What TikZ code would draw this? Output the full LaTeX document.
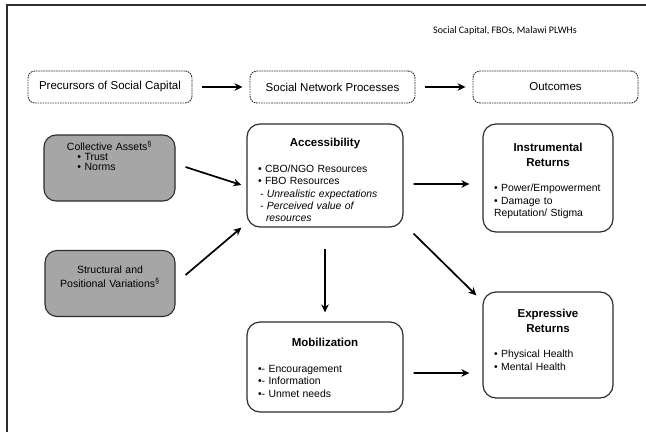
\documentclass[tikz,border=0pt]{standalone}
\usepackage{fontspec}
\setmainfont{Liberation Sans}
\newfontfamily\calibri{Carlito}
\usetikzlibrary{arrows.meta}

\definecolor{boxgrey}{RGB}{166,166,166}
\definecolor{linegrey}{RGB}{45,45,45}

\tikzstyle{headbox} = [draw=linegrey, line width=0.9bp, dash pattern=on 1.6bp off 0.9bp, rounded corners=7bp, minimum width=164bp, minimum height=32bp, inner sep=0pt, font=\fontsize{11.5bp}{13bp}\selectfont]
\tikzstyle{greybox} = [draw=linegrey, line width=1.1bp, fill=boxgrey, rounded corners=12bp, minimum width=131bp, minimum height=66bp, inner sep=0pt]
\tikzstyle{whitebox} = [draw=linegrey, line width=1.2bp, fill=white, rounded corners=13bp, inner sep=0pt]
\tikzstyle{greytext} = [anchor=base, inner sep=0pt, text width=125bp, align=center, font=\fontsize{10.5bp}{10bp}\selectfont]
\tikzstyle{boxtext} = [anchor=base, inner sep=0pt, align=left, font=\fontsize{10.4bp}{12.3bp}\selectfont]
\tikzstyle{flow} = [-{Stealth[length=8bp, width=7.5bp]}, line width=1.7bp, black]

\newcommand{\boxtitle}[1]{{\centering\fontsize{11.5bp}{14.5bp}\selectfont\bfseries #1\par}\vspace{13.2bp}}

\begin{document}
\begin{tikzpicture}[x=1bp, y=1bp]
    \useasboundingbox (0,0) rectangle (646,432);

    % frame
    \draw [line width=1.6bp, draw=linegrey] (646,427) -- (7,427) -- (7,0);

    % running title
    \node at (505,398) [anchor=base, font=\calibri\fontsize{10bp}{12bp}\selectfont] (title) {Social Capital, FBOs, Malawi PLWHs};

    % header row
    \node at (110,345) [headbox] (pre) {Precursors of Social Capital};
    \node at (332.5,345) [headbox, minimum width=165bp] (snp) {Social Network Processes};
    \node at (555.5,345) [headbox, minimum width=165bp] (outc) {Outcomes};

    \draw [flow, shorten <=10bp, shorten >=7bp] (pre) -- (snp);
    \draw [flow, shorten <=10bp, shorten >=7bp] (snp) -- (outc);

    % precursors
    \node at (109.5,264) [greybox] (ca) {};
    \node at ([yshift=-16bp]ca.north) [greytext] (ca-text) {Collective Assets\textsuperscript{§}\\ \hspace*{-26bp}\begin{tabular}[t]{@{}l@{}}• Trust\\ • Norms\end{tabular}};
    \node at (110,148.5) [greybox, minimum width=130bp] (sv) {};
    \node at ([yshift=-24bp]sv.north) [greytext, font=\fontsize{10.5bp}{13.3bp}\selectfont] (sv-text) {Structural and\\ Positional Variations\textsuperscript{§}};

    % network processes
    \node at (325,256.5) [whitebox, minimum width=156bp, minimum height=103bp] (acc) {};
    \node at ([yshift=-23.5bp]acc.north) [boxtext, text width=134bp] (acc-text) {\boxtitle{Accessibility}• CBO/NGO Resources\\ • FBO Resources\\ \hspace*{2bp}\textit{- Unrealistic expectations}\\ \hspace*{2bp}\textit{- Perceived value of}\\ \hspace*{8bp}\textit{resources}};
    \node at (325,65) [whitebox, minimum width=156bp, minimum height=90bp] (mob) {};
    \node at ([yshift=-25.5bp]mob.north) [boxtext, text width=134bp] (mob-text) {\boxtitle{Mobilization}•- Encouragement\\ •- Information\\ •- Unmet needs};

    % returns
    \node at (548,254) [whitebox, minimum width=130bp, minimum height=108bp] (inr) {};
    \node at ([yshift=-28.5bp]inr.north) [boxtext, text width=108bp] (inr-text) {\boxtitle{Instrumental\\ Returns}• Power/Empowerment\\ • Damage to\\ Reputation/ Stigma};
    \node at (548,87) [whitebox, minimum width=130bp, minimum height=106bp] (exr) {};
    \node at ([yshift=-26.5bp]exr.north) [boxtext, text width=108bp] (exr-text) {\boxtitle{Expressive\\ Returns}• Physical Health\\ • Mental Health};

    % arrows
    \draw [flow] ([xshift=10bp, yshift=1bp]ca.east) -- ([xshift=-5bp, yshift=-9.5bp]acc.west);
    \draw [flow] ([xshift=10bp, yshift=8.5bp]sv.east) -- ([xshift=-5bp]acc.south west);
    \draw [flow, shorten <=21bp, shorten >=9bp] (acc) -- (mob);
    \draw [flow] ([xshift=10bp, yshift=-8.5bp]acc.east) -- ([xshift=-13bp, yshift=-6bp]inr.west);
    \draw [flow] ([xshift=10bp, yshift=-6bp]acc.south east) -- ([xshift=-6bp, yshift=-4bp]exr.north west);
    \draw [flow] ([xshift=10bp, yshift=-6bp]mob.east) -- ([xshift=-13bp, yshift=-28bp]exr.west);

\end{tikzpicture}
\end{document}
